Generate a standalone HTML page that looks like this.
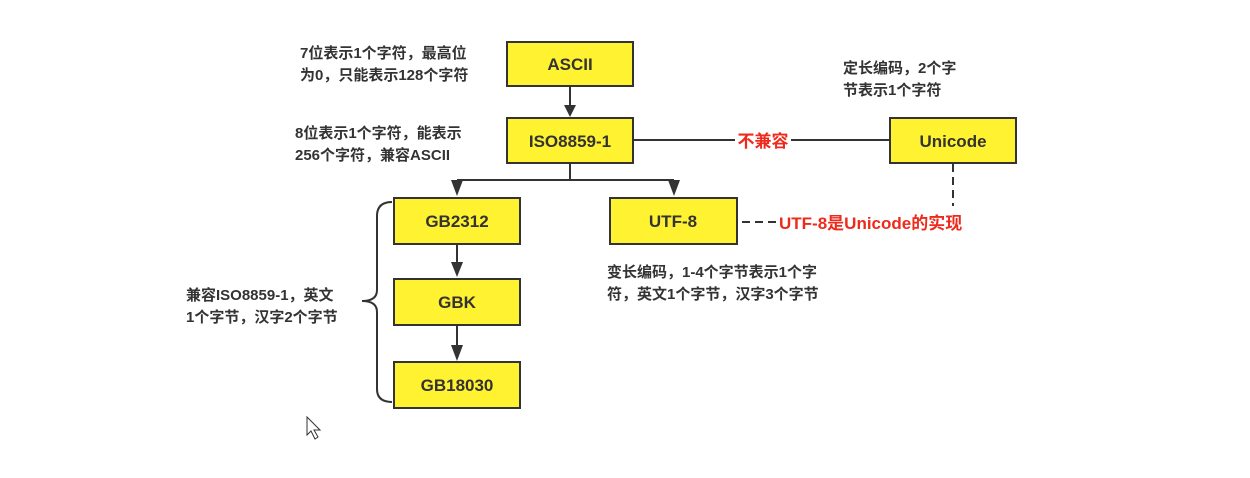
<!DOCTYPE html>
<html><head><meta charset="utf-8"><style>
html,body{margin:0;padding:0;background:#fff;}
svg{display:block}
text{font-family:"Liberation Sans","Noto Sans CJK SC",sans-serif;font-weight:bold;}
</style></head><body>
<svg width="1250" height="478" viewBox="0 0 1250 478">
<g stroke="#333" stroke-width="2" fill="none">
<line x1="570" y1="87" x2="570" y2="108"/>
<line x1="570" y1="164" x2="570" y2="180"/>
<line x1="457" y1="180" x2="674" y2="180"/>
<line x1="633" y1="140" x2="735" y2="140"/>
<line x1="791" y1="140" x2="890" y2="140"/>
<line x1="457" y1="245" x2="457" y2="262"/>
<line x1="457" y1="326" x2="457" y2="346"/>
<line x1="953" y1="164" x2="953" y2="206" stroke-dasharray="8,5"/>
<line x1="742" y1="222" x2="778" y2="222" stroke-dasharray="8,5"/>
<path d="M392,202 Q377,202 377,216 L377,290 Q377,301 362,301 Q377,301 377,312 L377,389 Q377,402 392,402"/>
</g>
<g fill="#333">
<path d="M564,105 L576,105 L570,117 z"/>
<path d="M451,180 L463,180 L457,196 z"/>
<path d="M668,180 L680,180 L674,196 z"/>
<path d="M451,262 L463,262 L457,277 z"/>
<path d="M451,345 L463,345 L457,361 z"/>
</g>
<g fill="#fff231" stroke="#333" stroke-width="2">
<rect x="507" y="42" width="126" height="44"/>
<rect x="507" y="118" width="126" height="45"/>
<rect x="890" y="118" width="126" height="45"/>
<rect x="394" y="198" width="126" height="46"/>
<rect x="610" y="198" width="127" height="46"/>
<rect x="394" y="279" width="126" height="46"/>
<rect x="394" y="362" width="126" height="46"/>
</g>
<g font-size="17" fill="#333" text-anchor="middle">
<text x="570" y="70">ASCII</text>
<text x="570" y="147">ISO8859-1</text>
<text x="953" y="147">Unicode</text>
<text x="457" y="227">GB2312</text>
<text x="673" y="227">UTF-8</text>
<text x="457" y="308">GBK</text>
<text x="457" y="391">GB18030</text>
</g>
<g font-size="15" fill="#333">
<text x="300" y="58">7位表示1个字符，最高位</text>
<text x="300" y="80">为0，只能表示128个字符</text>
<text x="295" y="138">8位表示1个字符，能表示</text>
<text x="295" y="160">256个字符，兼容ASCII</text>
<text x="186" y="300">兼容ISO8859-1，英文</text>
<text x="186" y="322">1个字节，汉字2个字节</text>
<text x="843" y="73">定长编码，2个字</text>
<text x="843" y="95">节表示1个字符</text>
<text x="607" y="277">变长编码，1-4个字节表示1个字</text>
<text x="607" y="299">符，英文1个字节，汉字3个字节</text>
</g>
<g font-size="17" fill="#ee2a1c">
<text x="763" y="147" text-anchor="middle">不兼容</text>
<text x="779" y="229">UTF-8是Unicode的实现</text>
</g>
<path d="M307,417 L307,435 L311,431 L315,439 L318,437 L314,430 L320,430 z" fill="#fff" stroke="#333" stroke-width="1"/>
</svg>
</body></html>
